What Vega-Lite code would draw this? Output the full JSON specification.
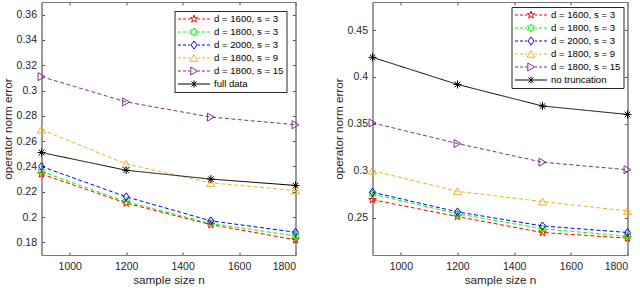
{
  "$schema": "https://vega.github.io/schema/vega-lite/v6.json",
  "padding": {"top": 1, "left": 1.5, "right": 0, "bottom": 0},
  "datasets": {
    "left": [
      {"series": "d = 1600, s = 3", "n": 900, "err": 0.234},
      {"series": "d = 1600, s = 3", "n": 1200, "err": 0.211},
      {"series": "d = 1600, s = 3", "n": 1500, "err": 0.194},
      {"series": "d = 1600, s = 3", "n": 1800, "err": 0.182},
      {"series": "d = 1800, s = 3", "n": 900, "err": 0.236},
      {"series": "d = 1800, s = 3", "n": 1200, "err": 0.212},
      {"series": "d = 1800, s = 3", "n": 1500, "err": 0.195},
      {"series": "d = 1800, s = 3", "n": 1800, "err": 0.185},
      {"series": "d = 2000, s = 3", "n": 900, "err": 0.240},
      {"series": "d = 2000, s = 3", "n": 1200, "err": 0.216},
      {"series": "d = 2000, s = 3", "n": 1500, "err": 0.197},
      {"series": "d = 2000, s = 3", "n": 1800, "err": 0.188},
      {"series": "d = 1800, s = 9", "n": 900, "err": 0.269},
      {"series": "d = 1800, s = 9", "n": 1200, "err": 0.242},
      {"series": "d = 1800, s = 9", "n": 1500, "err": 0.227},
      {"series": "d = 1800, s = 9", "n": 1800, "err": 0.221},
      {"series": "d = 1800, s = 15", "n": 900, "err": 0.311},
      {"series": "d = 1800, s = 15", "n": 1200, "err": 0.291},
      {"series": "d = 1800, s = 15", "n": 1500, "err": 0.279},
      {"series": "d = 1800, s = 15", "n": 1800, "err": 0.273},
      {"series": "full data", "n": 900, "err": 0.251},
      {"series": "full data", "n": 1200, "err": 0.237},
      {"series": "full data", "n": 1500, "err": 0.230},
      {"series": "full data", "n": 1800, "err": 0.225}
    ],
    "right": [
      {"series": "d = 1600, s = 3", "n": 900, "err": 0.269},
      {"series": "d = 1600, s = 3", "n": 1200, "err": 0.251},
      {"series": "d = 1600, s = 3", "n": 1500, "err": 0.234},
      {"series": "d = 1600, s = 3", "n": 1800, "err": 0.228},
      {"series": "d = 1800, s = 3", "n": 900, "err": 0.275},
      {"series": "d = 1800, s = 3", "n": 1200, "err": 0.254},
      {"series": "d = 1800, s = 3", "n": 1500, "err": 0.238},
      {"series": "d = 1800, s = 3", "n": 1800, "err": 0.230},
      {"series": "d = 2000, s = 3", "n": 900, "err": 0.277},
      {"series": "d = 2000, s = 3", "n": 1200, "err": 0.256},
      {"series": "d = 2000, s = 3", "n": 1500, "err": 0.241},
      {"series": "d = 2000, s = 3", "n": 1800, "err": 0.234},
      {"series": "d = 1800, s = 9", "n": 900, "err": 0.300},
      {"series": "d = 1800, s = 9", "n": 1200, "err": 0.278},
      {"series": "d = 1800, s = 9", "n": 1500, "err": 0.267},
      {"series": "d = 1800, s = 9", "n": 1800, "err": 0.257},
      {"series": "d = 1800, s = 15", "n": 900, "err": 0.351},
      {"series": "d = 1800, s = 15", "n": 1200, "err": 0.329},
      {"series": "d = 1800, s = 15", "n": 1500, "err": 0.309},
      {"series": "d = 1800, s = 15", "n": 1800, "err": 0.301},
      {"series": "no truncation", "n": 900, "err": 0.421},
      {"series": "no truncation", "n": 1200, "err": 0.392},
      {"series": "no truncation", "n": 1500, "err": 0.369},
      {"series": "no truncation", "n": 1800, "err": 0.360}
    ]
  },
  "hconcat": [
    {
      "width": 254,
      "height": 253,
      "data": {"name": "left"},
      "transform": [{"calculate": "datum.series", "as": "key"}],
      "encoding": {
        "x": {"field": "n", "type": "quantitative", "scale": {"domain": [900, 1800], "nice": false, "zero": false}, "axis": {"title": "sample size n", "values": [1000, 1200, 1400, 1600, 1800], "format": "d", "labelPadding": 9, "titlePadding": 3}},
        "y": {"field": "err", "type": "quantitative", "scale": {"domain": [0.17, 0.37], "nice": false, "zero": false}, "axis": {"title": "operator norm error", "values": [0.18, 0.2, 0.22, 0.24, 0.26, 0.28, 0.3, 0.32, 0.34, 0.36], "format": ".2~f"}},
        "color": {
          "field": "series", "type": "nominal",
          "scale": {"domain": ["d = 1600, s = 3", "d = 1800, s = 3", "d = 2000, s = 3", "d = 1800, s = 9", "d = 1800, s = 15", "full data"], "range": ["#FF0000", "#00FF00", "#0000FF", "#EDB120", "#7E2F8E", "#000000"]},
          "legend": {"orient": "top-right", "offset": 9, "title": null}
        }
      },
      "layer": [
        {
          "mark": {"type": "line", "strokeWidth": 1},
          "encoding": {
            "strokeDash": {"field": "key", "type": "nominal", "scale": {"domain": ["full data", "d = 1600, s = 3", "d = 1800, s = 3", "d = 2000, s = 3", "d = 1800, s = 9", "d = 1800, s = 15"], "range": [[1, 0], [4, 2.5], [4, 2.5], [4, 2.5], [4, 2.5], [4, 2.5]]}, "legend": null}
          }
        },
        {
          "mark": {"type": "point", "filled": false, "size": 64, "strokeWidth": 1, "opacity": 1},
          "encoding": {
            "x": {"field": "n", "type": "quantitative", "scale": {"domain": [900, 1800], "nice": false, "zero": false}, "axis": {"orient": "top", "labels": false, "title": null, "values": [1000, 1200, 1400, 1600, 1800]}},
            "y": {"field": "err", "type": "quantitative", "scale": {"domain": [0.17, 0.37], "nice": false, "zero": false}, "axis": {"orient": "right", "labels": false, "title": null, "values": [0.18, 0.2, 0.22, 0.24, 0.26, 0.28, 0.3, 0.32, 0.34, 0.36]}},
            "shape": {"field": "key", "type": "nominal", "scale": {"domain": ["full data", "d = 1600, s = 3", "d = 1800, s = 3", "d = 2000, s = 3", "d = 1800, s = 9", "d = 1800, s = 15"], "range": ["M-1,0L1,0M0,-1L0,1M-0.7,-0.7L0.7,0.7M-0.7,0.7L0.7,-0.7", "M0,-1L0.225,-0.309L0.951,-0.309L0.363,0.118L0.588,0.809L0,0.382L-0.588,0.809L-0.363,0.118L-0.951,-0.309L-0.225,-0.309Z", "M0,-1L0.289,-0.5L0.866,-0.5L0.577,0L0.866,0.5L0.289,0.5L0,1L-0.289,0.5L-0.866,0.5L-0.577,0L-0.866,-0.5L-0.289,-0.5Z", "M0,-1L0.75,0L0,1L-0.75,0Z", "triangle-up", "triangle-right"]}, "legend": null}
          }
        }
      ],
      "resolve": {"axis": {"x": "independent", "y": "independent"}}
    },
    {
      "width": 255,
      "height": 253,
      "data": {"name": "right"},
      "transform": [{"calculate": "datum.series", "as": "key"}],
      "encoding": {
        "x": {"field": "n", "type": "quantitative", "scale": {"domain": [900, 1800], "nice": false, "zero": false}, "axis": {"title": "sample size n", "values": [1000, 1200, 1400, 1600, 1800], "format": "d", "labelPadding": 9, "titlePadding": 3}},
        "y": {"field": "err", "type": "quantitative", "scale": {"domain": [0.21, 0.48], "nice": false, "zero": false}, "axis": {"title": "operator norm error", "values": [0.25, 0.3, 0.35, 0.4, 0.45], "format": ".2~f"}},
        "color": {
          "field": "series", "type": "nominal",
          "scale": {"domain": ["d = 1600, s = 3", "d = 1800, s = 3", "d = 2000, s = 3", "d = 1800, s = 9", "d = 1800, s = 15", "no truncation"], "range": ["#FF0000", "#00FF00", "#0000FF", "#EDB120", "#7E2F8E", "#000000"]},
          "legend": {"orient": "top-right", "offset": 4.5, "title": null}
        }
      },
      "layer": [
        {
          "mark": {"type": "line", "strokeWidth": 1},
          "encoding": {
            "strokeDash": {"field": "key", "type": "nominal", "scale": {"domain": ["no truncation", "d = 1600, s = 3", "d = 1800, s = 3", "d = 2000, s = 3", "d = 1800, s = 9", "d = 1800, s = 15"], "range": [[1, 0], [4, 2.5], [4, 2.5], [4, 2.5], [4, 2.5], [4, 2.5]]}, "legend": null}
          }
        },
        {
          "mark": {"type": "point", "filled": false, "size": 64, "strokeWidth": 1, "opacity": 1},
          "encoding": {
            "x": {"field": "n", "type": "quantitative", "scale": {"domain": [900, 1800], "nice": false, "zero": false}, "axis": {"orient": "top", "labels": false, "title": null, "values": [1000, 1200, 1400, 1600, 1800]}},
            "y": {"field": "err", "type": "quantitative", "scale": {"domain": [0.21, 0.48], "nice": false, "zero": false}, "axis": {"orient": "right", "labels": false, "title": null, "values": [0.25, 0.3, 0.35, 0.4, 0.45]}},
            "shape": {"field": "key", "type": "nominal", "scale": {"domain": ["no truncation", "d = 1600, s = 3", "d = 1800, s = 3", "d = 2000, s = 3", "d = 1800, s = 9", "d = 1800, s = 15"], "range": ["M-1,0L1,0M0,-1L0,1M-0.7,-0.7L0.7,0.7M-0.7,0.7L0.7,-0.7", "M0,-1L0.225,-0.309L0.951,-0.309L0.363,0.118L0.588,0.809L0,0.382L-0.588,0.809L-0.363,0.118L-0.951,-0.309L-0.225,-0.309Z", "M0,-1L0.289,-0.5L0.866,-0.5L0.577,0L0.866,0.5L0.289,0.5L0,1L-0.289,0.5L-0.866,0.5L-0.577,0L-0.866,-0.5L-0.289,-0.5Z", "M0,-1L0.75,0L0,1L-0.75,0Z", "triangle-up", "triangle-right"]}, "legend": null}
          }
        }
      ],
      "resolve": {"axis": {"x": "independent", "y": "independent"}}
    }
  ],
  "spacing": 30,
  "resolve": {"scale": {"color": "independent", "shape": "independent", "strokeDash": "independent"}, "legend": {"color": "independent"}},
  "config": {
    "font": "Liberation Sans",
    "view": {"stroke": "#7a7a7a", "strokeWidth": 1},
    "axis": {"grid": false, "domainColor": "#7a7a7a", "tickColor": "#555555", "labelColor": "#262626", "titleColor": "#262626", "labelFontSize": 10.5, "titleFontSize": 11.7, "titleFontWeight": "normal", "tickSize": -3, "labelPadding": 8, "titlePadding": 3},
    "legend": {
      "fillColor": "white",
      "strokeColor": "#262626",
      "padding": 3,
      "rowPadding": 3,
      "clipHeight": 10,
      "labelOffset": 3.5,
      "labelFontSize": 9.6,
      "labelColor": "#000000",
      "symbolSize": 1024,
      "symbolStrokeWidth": 1,
      "symbolFillColor": "transparent",
      "symbolType": {"expr": "datum.value == 'd = 1600, s = 3' ? 'M-1,0L-0.81,0M-0.69,0L-0.5,0M-0.38,0L-0.25,0M0.25,0L0.38,0M0.5,0L0.69,0M0.81,0L1,0M0,-0.25L0.056,-0.077L0.238,-0.077L0.091,0.03L0.147,0.202L0,0.096L-0.147,0.202L-0.091,0.03L-0.238,-0.077L-0.056,-0.077Z' : datum.value == 'd = 1800, s = 3' ? 'M-1,0L-0.81,0M-0.69,0L-0.5,0M-0.38,0L-0.25,0M0.25,0L0.38,0M0.5,0L0.69,0M0.81,0L1,0M0,-0.25L0.072,-0.125L0.217,-0.125L0.144,0L0.217,0.125L0.072,0.125L0,0.25L-0.072,0.125L-0.217,0.125L-0.144,0L-0.217,-0.125L-0.072,-0.125Z' : datum.value == 'd = 2000, s = 3' ? 'M-1,0L-0.81,0M-0.69,0L-0.5,0M-0.38,0L-0.25,0M0.25,0L0.38,0M0.5,0L0.69,0M0.81,0L1,0M0,-0.25L0.19,0L0,0.25L-0.19,0Z' : datum.value == 'd = 1800, s = 9' ? 'M-1,0L-0.81,0M-0.69,0L-0.5,0M-0.38,0L-0.25,0M0.25,0L0.38,0M0.5,0L0.69,0M0.81,0L1,0M0,-0.22L0.25,0.2L-0.25,0.2Z' : datum.value == 'd = 1800, s = 15' ? 'M-1,0L-0.81,0M-0.69,0L-0.5,0M-0.38,0L-0.25,0M0.25,0L0.38,0M0.5,0L0.69,0M0.81,0L1,0M0.22,0L-0.2,-0.25L-0.2,0.25Z' : 'M-1,0L1,0M0,-0.22L0,0.22M-0.16,-0.16L0.16,0.16M-0.16,0.16L0.16,-0.16'"}
    }
  }
}
